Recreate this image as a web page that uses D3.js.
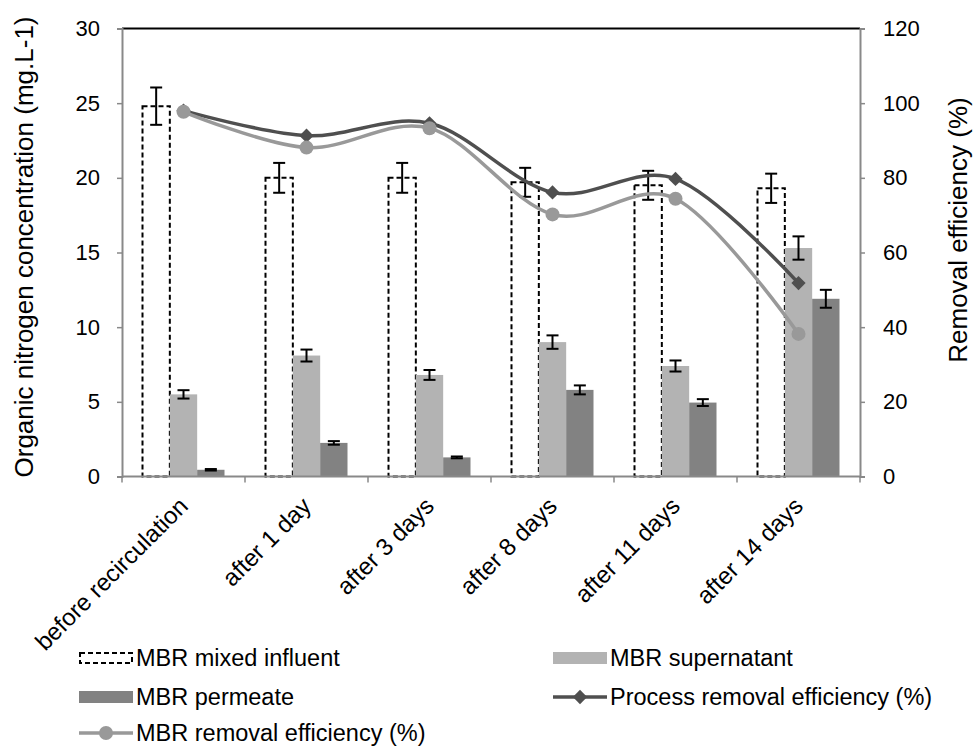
<!DOCTYPE html>
<html>
<head>
<meta charset="utf-8">
<script src="https://cdn.jsdelivr.net/npm/d3@7"></script>
<style>
  html, body { margin: 0; padding: 0; background: #fff; }
  svg { display: block; font-family: "Liberation Sans", Arial, sans-serif; }
</style>
</head>
<body>
<svg id="chart" width="974" height="747"></svg>
<script>
// ---- data ----
const categories = ["before recirculation", "after 1 day", "after 3 days", "after 8 days", "after 11 days", "after 14 days"];
const seriesNames = ["MBR mixed influent", "MBR supernatant", "MBR permeate"];
const influent = [24.8, 20.0, 20.0, 19.7, 19.5, 19.3];
const influentErr = [1.25, 1.0, 1.0, 0.97, 0.97, 0.98];
const supernatant = [5.5, 8.1, 6.8, 9.0, 7.4, 15.3];
const supernatantErr = [0.28, 0.4, 0.33, 0.45, 0.37, 0.78];
const permeate = [0.45, 2.25, 1.28, 5.8, 4.95, 11.9];
const permeateErr = [0.05, 0.12, 0.06, 0.3, 0.23, 0.6];
const processEff = [98.0, 91.3, 94.6, 76.1, 79.7, 51.8];
const mbrEff = [97.7, 88.1, 93.3, 70.2, 74.4, 38.2];
const leftTicks = [0, 5, 10, 15, 20, 25, 30];
const rightTicks = [0, 20, 40, 60, 80, 100, 120];

const svg = d3.select("#chart");
const L = 122, R = 860, T = 28.5, B = 476.5;

const x0 = d3.scaleBand().domain(categories).range([L, R]).paddingInner(0).paddingOuter(0);
const x1 = d3.scaleBand().domain(seriesNames).range([0, x0.bandwidth()]).paddingInner(0).paddingOuter(0.75);
const yL = d3.scaleLinear().domain([0, 30]).range([B, T]);
const yR = d3.scaleLinear().domain([0, 120]).range([B, T]);

const axisColor = "#898989";
const fs = 22;

// bars
const barData = [
  { name: seriesNames[0], vals: influent, errs: influentErr },
  { name: seriesNames[1], vals: supernatant, errs: supernatantErr },
  { name: seriesNames[2], vals: permeate, errs: permeateErr }
];
const barStyle = {
  "MBR mixed influent": { fill: "none", stroke: "#000", dash: "5,3" },
  "MBR supernatant": { fill: "#b3b3b3", stroke: "none", dash: null },
  "MBR permeate": { fill: "#828282", stroke: "none", dash: null }
};

barData.forEach(s => {
  const st = barStyle[s.name];
  svg.append("g").selectAll("rect").data(s.vals).join("rect")
    .attr("x", (d, i) => x0(categories[i]) + x1(s.name))
    .attr("y", d => yL(d))
    .attr("width", x1.bandwidth())
    .attr("height", d => yL(0) - yL(d))
    .attr("fill", st.fill)
    .attr("stroke", st.stroke)
    .attr("stroke-width", 2)
    .attr("stroke-dasharray", st.dash);
});

// top border
svg.append("line").attr("x1", L).attr("x2", R).attr("y1", T).attr("y2", T)
  .attr("stroke", "#000").attr("stroke-width", 2);

// axes
const gL = svg.append("g").attr("transform", `translate(${L},0)`)
  .call(d3.axisLeft(yL).tickValues(leftTicks).tickSize(5).tickPadding(17).tickFormat(d3.format("d")));
const gR = svg.append("g").attr("transform", `translate(${R},0)`)
  .call(d3.axisRight(yR).tickValues(rightTicks).tickSize(5).tickPadding(18).tickFormat(d3.format("d")));
const xBoundaries = categories.map(c => x0(c)).concat([R]);
const gB = svg.append("g").attr("transform", `translate(0,${B})`);
gB.append("line").attr("x1", L).attr("x2", R).attr("stroke", axisColor).attr("stroke-width", 2);
gB.selectAll("line.tk").data(xBoundaries).join("line").attr("class", "tk")
  .attr("x1", d => d).attr("x2", d => d).attr("y1", 0).attr("y2", 6)
  .attr("stroke", axisColor).attr("stroke-width", 1.5);

[gL, gR].forEach(g => {
  g.select(".domain").attr("stroke", axisColor).attr("stroke-width", 2);
  g.selectAll(".tick line").attr("stroke", axisColor).attr("stroke-width", 1.5);
  g.selectAll(".tick text").attr("font-size", fs).attr("fill", "#000")
    .attr("font-family", "Liberation Sans, Arial, sans-serif");
});

// category labels
svg.append("g").selectAll("text").data(categories).join("text")
  .attr("transform", d => `translate(${x0(d) + x0.bandwidth() / 2 + 6},${B + 31}) rotate(-45)`)
  .attr("text-anchor", "end")
  .attr("font-size", 24)
  .text(d => d);

// axis titles
svg.append("text")
  .attr("transform", `translate(33,247) rotate(-90)`)
  .attr("text-anchor", "middle").attr("font-size", 26)
  .text("Organic nitrogen concentration (mg.L-1)");
svg.append("text")
  .attr("transform", `translate(967,230) rotate(-90)`)
  .attr("text-anchor", "middle").attr("font-size", 26)
  .text("Removal efficiency (%)");

// error bars
barData.forEach(s => {
  const g = svg.append("g").attr("stroke", "#000").attr("stroke-width", 2);
  s.vals.forEach((v, i) => {
    const cx = x0(categories[i]) + x1(s.name) + x1.bandwidth() / 2;
    const y1 = yL(v + s.errs[i]), y2 = yL(v - s.errs[i]);
    g.append("line").attr("x1", cx).attr("x2", cx).attr("y1", y1).attr("y2", y2);
    g.append("line").attr("x1", cx - 6).attr("x2", cx + 6).attr("y1", y1).attr("y2", y1);
    g.append("line").attr("x1", cx - 6).attr("x2", cx + 6).attr("y1", y2).attr("y2", y2);
  });
});

// lines
const cxOf = i => x0(categories[i]) + x0.bandwidth() / 2;
const lineGen = d3.line().x((d, i) => cxOf(i)).y(d => yR(d)).curve(d3.curveCardinal.tension(0));
const procColor = "#4f4f4f", mbrColor = "#999999";
const diamond = d3.symbol().type(d3.symbolDiamond2).size(130);

svg.append("path").datum(processEff).attr("d", lineGen)
  .attr("fill", "none").attr("stroke", procColor).attr("stroke-width", 3.5);
svg.append("g").selectAll("path").data(processEff).join("path")
  .attr("transform", (d, i) => `translate(${cxOf(i)},${yR(d)})`)
  .attr("d", diamond).attr("fill", procColor);

svg.append("path").datum(mbrEff).attr("d", lineGen)
  .attr("fill", "none").attr("stroke", mbrColor).attr("stroke-width", 3.5);
svg.append("g").selectAll("circle").data(mbrEff).join("circle")
  .attr("cx", (d, i) => cxOf(i)).attr("cy", d => yR(d)).attr("r", 7).attr("fill", mbrColor);

// redraw process line on top except where MBR circle should be visible
svg.append("path").datum(processEff.slice(1)).attr("d",
    d3.line().x((d, i) => cxOf(i + 1)).y(d => yR(d)).curve(d3.curveCardinal.tension(0)))
  .attr("fill", "none").attr("stroke", "none");

// legend
const legendItems = [
  { label: "MBR mixed influent", type: "dashed", x: 79, y: 658 },
  { label: "MBR supernatant", type: "rect", color: "#b3b3b3", x: 553, y: 658 },
  { label: "MBR permeate", type: "rect", color: "#828282", x: 79, y: 697 },
  { label: "Process removal efficiency (%)", type: "diamond", color: procColor, x: 553, y: 697 },
  { label: "MBR removal efficiency (%)", type: "circle", color: mbrColor, x: 79, y: 733 }
];
const lg = svg.append("g");
legendItems.forEach(it => {
  const g = lg.append("g").attr("transform", `translate(${it.x},${it.y})`);
  const w = 54;
  if (it.type === "dashed") {
    g.append("rect").attr("x", 1).attr("y", -5).attr("width", w - 2).attr("height", 10)
      .attr("fill", "none").attr("stroke", "#000").attr("stroke-width", 2).attr("stroke-dasharray", "5,3");
  } else if (it.type === "rect") {
    g.append("rect").attr("x", 0).attr("y", -6).attr("width", w).attr("height", 12).attr("fill", it.color);
  } else {
    g.append("line").attr("x1", 0).attr("x2", w).attr("y1", 0).attr("y2", 0)
      .attr("stroke", it.color).attr("stroke-width", 3.5);
    if (it.type === "diamond") {
      g.append("path").attr("transform", `translate(${w / 2},0)`).attr("d", diamond).attr("fill", it.color);
    } else {
      g.append("circle").attr("cx", w / 2).attr("cy", 0).attr("r", 7).attr("fill", it.color);
    }
  }
  g.append("text").attr("x", w + 3).attr("y", 0).attr("dy", "0.36em")
    .attr("font-size", 23.5).text(it.label);
});
</script>
</body>
</html>
